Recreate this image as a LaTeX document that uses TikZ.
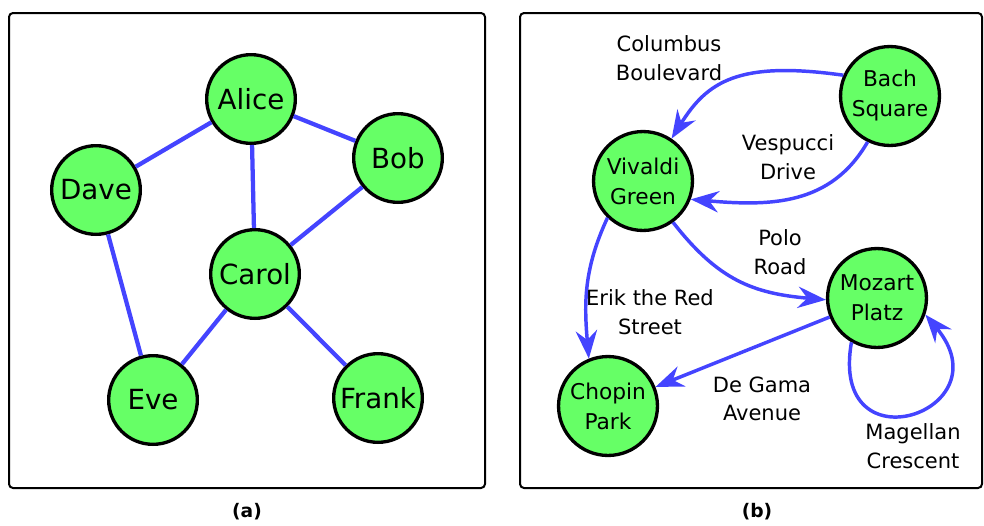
\documentclass[tikz,border=0pt]{standalone}
\usepackage{fontspec}
\setmainfont{DejaVu Sans}
\usetikzlibrary{arrows.meta}
\definecolor{ngreen}{RGB}{102,255,102}
\definecolor{eblue}{RGB}{68,68,255}
\begin{document}
\begin{tikzpicture}[x=0.75pt,y=-0.75pt,
  panel/.style={draw=black,line width=1.5pt,rounded corners=3pt},
  anode/.style={circle,draw=black,fill=ngreen,line width=2.5pt,minimum size=66.5pt,inner sep=0pt,font=\fontsize{20.8}{24}\selectfont},
  bnode/.style={circle,draw=black,fill=ngreen,line width=2.5pt,minimum size=74.2pt,inner sep=0pt,align=center,font=\fontsize{16.3}{22.5}\selectfont},
  aedge/.style={draw=eblue,line width=3.2pt},
  bedge/.style={draw=eblue,line width=2.6pt,-{Stealth[length=21pt,width=16pt,inset=7pt]}},
  elabel/.style={align=center,font=\fontsize{15.75}{21.3}\selectfont},
  caption/.style={font=\fontsize{14}{16}\selectfont\bfseries}]
\useasboundingbox (0,0) rectangle (984,525);
% panels
\draw[panel] (9,13) rectangle (485,488);
\draw[panel] (520,13) rectangle (982,488);
% panel (a)
\node[anode] (alice) at (251,99) {Alice};
\node[anode] (bob) at (398,158) {Bob};
\node[anode] (dave) at (96,190) {Dave};
\node[anode] (carol) at (255,274) {Carol};
\node[anode] (eve) at (153,400) {Eve};
\node[anode] (frank) at (378,398) {Frank};
\path[aedge] (alice) -- (bob);
\path[aedge] (alice) -- (dave);
\path[aedge] (alice) -- (carol);
\path[aedge] (bob) -- (carol);
\path[aedge] (dave) -- (eve);
\path[aedge] (carol) -- (eve);
\path[aedge] (carol) -- (frank);
% panel (b)
\node[bnode] (bach) at (890,96) {Bach\\Square};
\node[bnode] (viv) at (643,181) {Vivaldi\\Green};
\node[bnode] (moz) at (877,298) {Mozart\\Platz};
\node[bnode] (chop) at (608,406) {Chopin\\Park};
\path[bedge] (bach.156) to[out=172,in=58,out distance=80pt,in distance=50pt] (viv.56);
\path[bedge] (bach.244) to[out=240,in=-5,out distance=55pt,in distance=60pt] (viv.339);
\path[bedge] (viv.306) to[out=-52,in=175,out distance=55pt,in distance=55pt] (moz.182);
\path[bedge] (viv.226) to[out=-115,in=95,out distance=42pt,in distance=42pt] (chop.112);
\path[bedge] (moz) -- (chop);
\path[bedge] (moz.240) to[out=-100,in=-50,out distance=98pt,in distance=95pt] (moz.341);
\node[elabel] (lcol) at (669,58) {Columbus\\Boulevard};
\node[elabel] (lves) at (788,157) {Vespucci\\Drive};
\node[elabel] (lpol) at (780,252) {Polo\\Road};
\node[elabel] (leri) at (650,312) {Erik the Red\\Street};
\node[elabel] (lgam) at (762,399) {De Gama\\Avenue};
\node[elabel] (lmag) at (913,446) {Magellan\\Crescent};
% captions
\node[caption] (capa) at (247,512) {(a)};
\node[caption] (capb) at (757,512) {(b)};
\end{tikzpicture}
\end{document}
